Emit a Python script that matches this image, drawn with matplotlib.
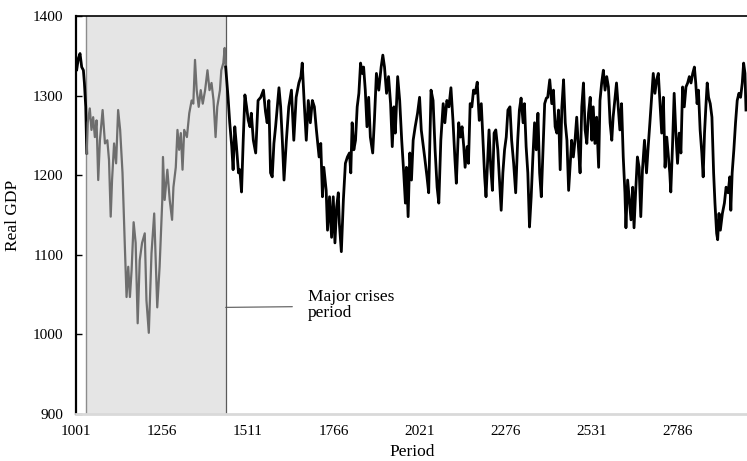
import matplotlib
matplotlib.use('Agg')
import matplotlib.pyplot as plt
import numpy as np

# ---------------- data ----------------
period = [
    1001, 1003, 1008, 1013, 1018, 1023, 1026, 1030, 1033, 1036, 1042, 1047, 1052, 1057, 1062, 1067,
    1072, 1080, 1087, 1094, 1099, 1104, 1108, 1114, 1120, 1126, 1132, 1139, 1146, 1151, 1156, 1161,
    1166, 1172, 1178, 1184, 1190, 1197, 1205, 1210, 1217, 1225, 1233, 1242, 1249, 1257, 1259, 1264,
    1272, 1279, 1286, 1290, 1297, 1302, 1307, 1312, 1317, 1322, 1330, 1337, 1344, 1349, 1354, 1359,
    1365, 1371, 1377, 1384, 1391, 1397, 1403, 1409, 1415, 1420, 1428, 1432, 1438, 1442, 1445, 1452,
    1457, 1463, 1467, 1472, 1477, 1483, 1487, 1492, 1497, 1502, 1507, 1512, 1517, 1521, 1527, 1534,
    1541, 1549, 1557, 1563, 1568, 1573, 1578, 1583, 1588, 1593, 1598, 1603, 1608, 1613, 1618, 1625,
    1632, 1640, 1647, 1654, 1662, 1668, 1672, 1678, 1684, 1690, 1696, 1702, 1708, 1714, 1722, 1727,
    1732, 1736, 1743, 1747, 1753, 1759, 1764, 1769, 1774, 1779, 1782, 1788, 1794, 1800, 1806, 1812,
    1816, 1820, 1825, 1830, 1835, 1840, 1845, 1850, 1854, 1859, 1864, 1869, 1874, 1881, 1886, 1892,
    1899, 1906, 1911, 1916, 1922, 1928, 1934, 1939, 1944, 1948, 1955, 1961, 1967, 1973, 1978, 1981,
    1986, 1991, 1996, 2001, 2007, 2014, 2020, 2025, 2030, 2035, 2042, 2047, 2054, 2060, 2066, 2072,
    2077, 2083, 2090, 2095, 2101, 2107, 2113, 2119, 2125, 2129, 2136, 2141, 2146, 2151, 2155, 2161,
    2165, 2170, 2175, 2180, 2185, 2191, 2197, 2203, 2208, 2213, 2217, 2222, 2226, 2231, 2236, 2241,
    2246, 2252, 2257, 2262, 2267, 2272, 2277, 2282, 2288, 2293, 2299, 2305, 2311, 2316, 2321, 2327,
    2331, 2336, 2341, 2346, 2351, 2356, 2361, 2366, 2371, 2376, 2381, 2386, 2391, 2396, 2400, 2406,
    2412, 2417, 2422, 2427, 2432, 2437, 2442, 2447, 2452, 2457, 2462, 2466, 2471, 2476, 2481, 2486,
    2491, 2496, 2501, 2506, 2511, 2516, 2521, 2526, 2531, 2535, 2540, 2545, 2551, 2555, 2560, 2565,
    2570, 2575, 2580, 2585, 2590, 2594, 2600, 2604, 2609, 2614, 2619, 2624, 2629, 2632, 2637, 2642,
    2647, 2652, 2656, 2661, 2666, 2671, 2676, 2681, 2687, 2693, 2698, 2703, 2708, 2713, 2718, 2723,
    2728, 2733, 2738, 2743, 2748, 2753, 2757, 2762, 2765, 2770, 2775, 2780, 2785, 2790, 2795, 2800,
    2805, 2810, 2815, 2820, 2825, 2830, 2835, 2839, 2843, 2847, 2852, 2857, 2861, 2865, 2869, 2873,
    2877, 2882, 2887, 2892, 2896, 2901, 2904, 2908, 2912, 2918, 2924, 2929, 2935, 2940, 2943, 2947,
    2952, 2957, 2962, 2967, 2972, 2977, 2981, 2985, 2988,
]
real_gdp = [
    1345, 1332, 1347, 1353, 1336, 1332, 1316, 1286, 1228, 1266, 1284, 1257, 1273, 1248, 1269, 1194,
    1244, 1282, 1240, 1244, 1219, 1148, 1194, 1240, 1215, 1282, 1257, 1203, 1110, 1047, 1085, 1047,
    1081, 1141, 1115, 1014, 1093, 1115, 1127, 1043, 1002, 1102, 1152, 1034, 1085, 1169, 1223, 1169,
    1207, 1169, 1144, 1185, 1210, 1257, 1232, 1253, 1207, 1257, 1248, 1278, 1294, 1290, 1345, 1307,
    1286, 1307, 1290, 1307, 1332, 1307, 1316, 1294, 1248, 1286, 1307, 1332, 1341, 1360, 1336, 1298,
    1266, 1236, 1207, 1261, 1236, 1203, 1207, 1179, 1244, 1301, 1286, 1269, 1261, 1278, 1244, 1228,
    1294, 1298, 1307, 1280, 1266, 1294, 1203, 1198, 1240, 1261, 1286, 1310, 1286, 1244, 1194, 1244,
    1286, 1307, 1244, 1298, 1316, 1324, 1341, 1290, 1244, 1294, 1266, 1294, 1286, 1257, 1223, 1240,
    1173, 1210, 1181, 1131, 1173, 1122, 1173, 1115, 1160, 1178, 1140, 1104, 1169, 1215, 1223, 1228,
    1203, 1266, 1232, 1244, 1286, 1303, 1341, 1328, 1336, 1307, 1261, 1298, 1248, 1228, 1269, 1328,
    1307, 1336, 1351, 1336, 1303, 1324, 1290, 1236, 1286, 1253, 1324, 1294, 1244, 1203, 1165, 1210,
    1148, 1228, 1194, 1244, 1261, 1278, 1298, 1257, 1240, 1223, 1198, 1178, 1307, 1294, 1232, 1185,
    1165, 1244, 1290, 1266, 1294, 1286, 1310, 1269, 1219, 1190, 1266, 1248, 1261, 1236, 1210, 1236,
    1215, 1290, 1286, 1307, 1303, 1317, 1269, 1290, 1244, 1198, 1173, 1219, 1257, 1210, 1181, 1253,
    1257, 1232, 1194, 1156, 1203, 1232, 1248, 1282, 1286, 1244, 1215, 1178, 1244, 1282, 1297, 1266,
    1290, 1236, 1203, 1135, 1173, 1223, 1266, 1232, 1278, 1203, 1173, 1232, 1290, 1297, 1298, 1320,
    1290, 1307, 1261, 1253, 1282, 1207, 1286, 1320, 1266, 1244, 1181, 1210, 1244, 1223, 1244, 1273,
    1236, 1203, 1286, 1316, 1257, 1240, 1278, 1298, 1244, 1286, 1240, 1273, 1210, 1294, 1316, 1332,
    1307, 1324, 1311, 1266, 1244, 1273, 1298, 1316, 1286, 1257, 1290, 1223, 1178, 1134, 1194, 1169,
    1144, 1185, 1134, 1181, 1223, 1210, 1148, 1207, 1244, 1203, 1236, 1266, 1298, 1328, 1303, 1320,
    1328, 1290, 1253, 1298, 1210, 1248, 1228, 1203, 1179, 1236, 1303, 1253, 1215, 1253, 1228, 1311,
    1286, 1311, 1316, 1324, 1316, 1328, 1336, 1316, 1290, 1307, 1257, 1228, 1198, 1253, 1286, 1316,
    1298, 1290, 1273, 1203, 1165, 1127, 1119, 1152, 1131, 1152, 1165, 1185, 1178, 1198, 1156, 1203,
    1232, 1266, 1294, 1303, 1298, 1316, 1341, 1328, 1282,
]
crisis_start = 1031
crisis_end = 1445
x_ticks = [1001, 1256, 1511, 1766, 2021, 2276, 2531, 2786]
y_ticks = [900, 1000, 1100, 1200, 1300, 1400]
annot_text = 'Major crises\nperiod'
annot_xy = (1445, 1034)
annot_text_xy = (1688, 1037)

# ---------------- plotting ----------------
plt.rcParams['font.family'] = ['Liberation Serif', 'DejaVu Serif']

p = np.array(period, dtype=float)
g = np.array(real_gdp, dtype=float)

fig = plt.figure(figsize=(7.47, 4.61), dpi=100)
ax = fig.add_axes([0.1017, 0.102, 0.8983, 0.863])

ax.axvspan(crisis_start, crisis_end, color='#e5e5e5', zorder=0, lw=0)
ax.axvline(crisis_start, color='#8c8c8c', lw=1.0, zorder=1)
ax.axvline(crisis_end, color='#5a5a5a', lw=0.9, zorder=1)

pre = p <= 1033
mid = (p >= 1033) & (p <= crisis_end)
post = p >= crisis_end
ax.plot(p[pre], g[pre], color='black', lw=2.0, zorder=3)
ax.plot(p[mid], g[mid], color='#6e6e6e', lw=1.6, zorder=3)
ax.plot(p[post], g[post], color='black', lw=2.0, zorder=3)

ax.annotate(annot_text, xy=annot_xy, xytext=annot_text_xy, ha='left', va='center',
            fontsize=12.5, linespacing=1.0,
            arrowprops=dict(arrowstyle='-', color='#555555', lw=0.8,
                            relpos=(0, 0.45), shrinkA=9, shrinkB=0))

ax.set_xlim(1001, 2991)
ax.set_ylim(900, 1400)
ax.set_xticks(x_ticks)
ax.set_yticks(y_ticks)
ax.tick_params(axis='y', direction='in', length=4, width=1, pad=9, labelsize=11)
ax.tick_params(axis='x', length=0, pad=8, labelsize=11)

ax.spines['left'].set_color('black')
ax.spines['left'].set_linewidth(1.6)
ax.spines['top'].set_color('black')
ax.spines['top'].set_linewidth(1.2)
ax.spines['bottom'].set_color('#d9d9d9')
ax.spines['bottom'].set_linewidth(2.0)
ax.spines['right'].set_visible(False)

ax.set_xlabel('Period', fontsize=12.5)
ax.set_ylabel('Real GDP', fontsize=12.5)
ax.xaxis.set_label_coords((412 - 76) / (0.8983 * 747), -0.076)
ax.yaxis.set_label_coords(-(76 - 21) / (0.8983 * 747), 0.5)

fig.savefig('out.png', dpi=100)
